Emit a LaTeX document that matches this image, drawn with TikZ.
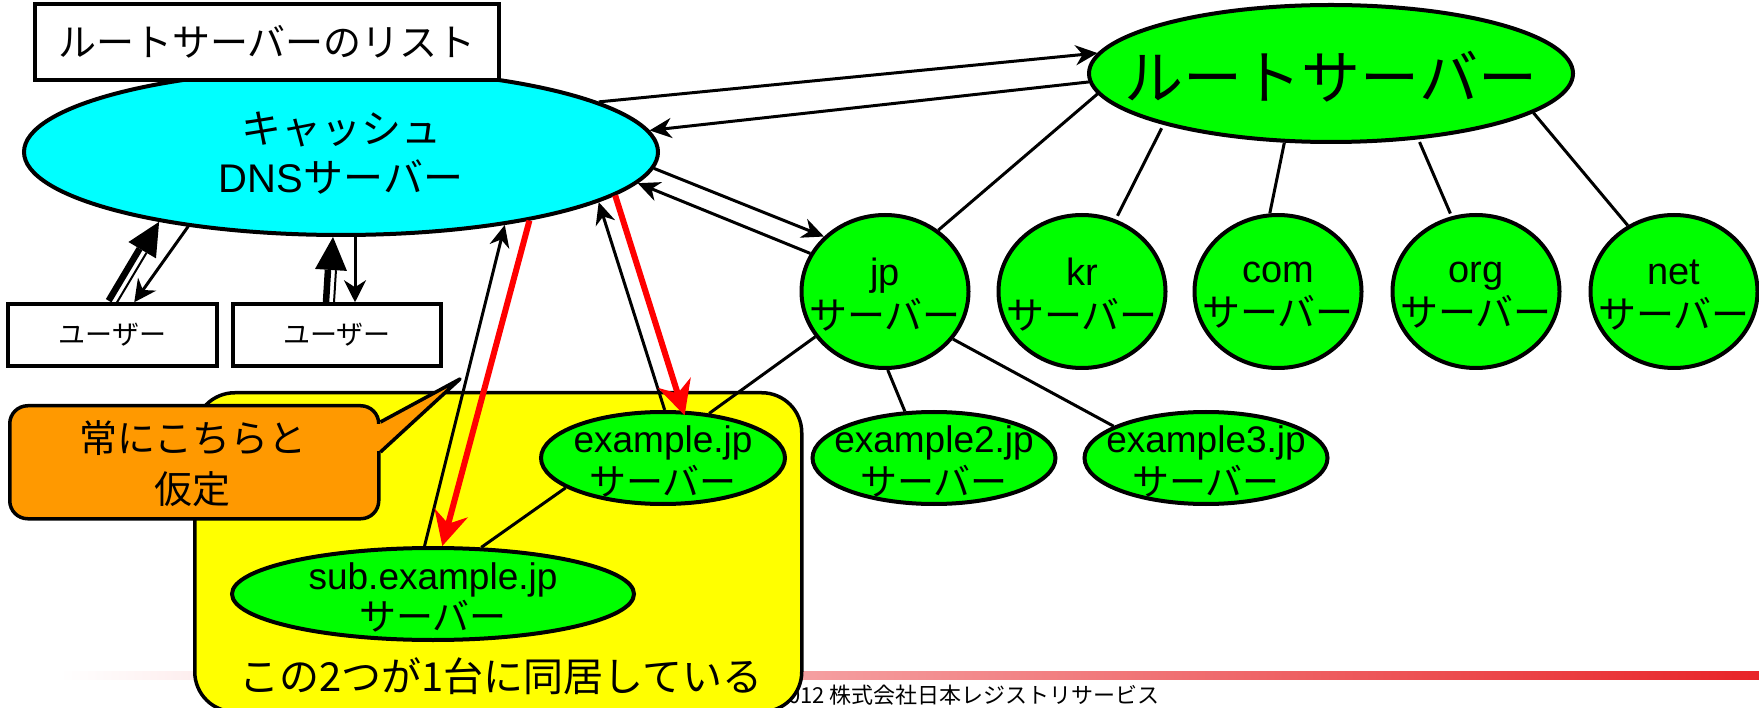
\documentclass[tikz,border=0pt]{standalone}
\usepackage{fontspec}
\setmainfont{Liberation Sans}
\newfontfamily\jp{Noto Sans CJK JP}
\usetikzlibrary{shapes.geometric,arrows.meta,calc}
\definecolor{cyanc}{RGB}{0,255,255}
\definecolor{greenc}{RGB}{0,255,0}
\definecolor{yellowc}{RGB}{255,255,0}
\definecolor{orangec}{RGB}{255,153,0}
\definecolor{redc}{RGB}{255,0,0}
\definecolor{footred}{RGB}{232,36,40}
\newcommand{\fs}[2]{\fontsize{#1}{#2}\selectfont}
\begin{document}
\begin{tikzpicture}[x=1pt,y=-1pt,
  ell/.style={ellipse, draw, line width=4pt, inner sep=0pt},
  gell/.style={ell, fill=greenc},
  rbox/.style={rectangle, draw, line width=3.5pt, fill=white, inner sep=0pt},
  txt/.style={align=center, inner sep=0pt},
  tline/.style={line width=3pt},
  barr/.style={line width=3pt, -{Stealth[length=22pt,width=20pt,inset=7pt]}},
  uarr/.style={line width=3pt, -{Stealth[length=22pt,width=22pt,inset=7pt]}},
  rarr/.style={line width=6pt, draw=redc, -{Stealth[length=34pt,width=34pt,inset=11pt]}},
]
\useasboundingbox (0,0) rectangle (1759,708);
% footer
\shade[left color=white, right color=footred] (60,671) rectangle (1759,679);
\node[anchor=base west, inner sep=0pt, font=\jp\fs{22}{26}] (foot) at (788,703) {012 株式会社日本レジストリサービス};
% yellow box
\node[draw, line width=3.5pt, fill=yellowc, rounded corners=40pt, minimum width=607pt, minimum height=319pt, anchor=north west, inner sep=0pt] (ybox) at (193,391) {};
% ellipses
\node[ell, fill=cyanc, minimum width=634pt, minimum height=166pt] (cache) at (341,152) {};
\node[gell, minimum width=484pt, minimum height=137pt] (root) at (1331,73.5) {};
\foreach \n/\x in {jp/885, kr/1082, com/1278, org/1476, net/1674}
  \node[gell, minimum width=167pt, minimum height=153pt] (\n) at (\x,291.5) {};
\node[gell, minimum width=244pt, minimum height=92pt] (ex) at (663,458) {};
\node[gell, minimum width=243pt, minimum height=92pt] (ex2) at (934,458) {};
\node[gell, minimum width=243pt, minimum height=92pt] (ex3) at (1206,458) {};
\node[gell, minimum width=402pt, minimum height=92pt] (sub) at (433,594) {};
% tree lines
\draw[tline] (root.185.8) -- (jp.49.6);
\draw[tline, shorten <=4pt, shorten >=4pt] (root.197.4) -- (kr.65);
\draw[tline] (root.236.1) -- (com.96.7);
\draw[tline, shorten <=3pt, shorten >=3pt] (root.323.2) -- (org.108.4);
\draw[tline] (root.349.9) -- (net.125.6);
\draw[tline] (jp.213) -- (ex.44.4);
\draw[tline] (jp.272) -- (ex2.122);
\draw[tline] (jp.325) -- (ex3.161.4);
\draw[tline] (ex.197.9) -- (sub.44.4);
% query arrows
\draw[barr] (cache.11.6) -- (root.175);
\draw[barr] (root.182.7) -- (cache.4);
\draw[barr] (cache.357.8) -- (jp.138.6);
\draw[barr] (jp.153) -- (cache.354.6);
\draw[barr] (sub.100) -- (cache.336);
\draw[barr] (ex.88) -- (cache.349);
\draw[rarr] (cache.340) -- (sub.79);
\draw[rarr, shorten >=-5pt] (cache.351) -- (ex.67);
% user boxes
\node[rbox, minimum width=209pt, minimum height=62pt, font=\jp\fs{27}{30}] (u1) at (112.5,335) {ユーザー};
\node[rbox, minimum width=208pt, minimum height=62pt, font=\jp\fs{27}{30}] (u2) at (337,335) {ユーザー};
% user arrows (left)
\coordinate (A1) at ([xshift=105pt]u1.north west);
\coordinate (B1) at (cache.201);
\coordinate (H1) at ($(B1)!33pt!(A1)$);
\draw[line width=6.5pt] ($(A1)!3pt!90:(B1)$) -- ($(H1)!3pt!-90:(A1)$);
\draw[line width=2pt] ($(A1)!5pt!-90:(B1)$) -- ($(H1)!5pt!90:(A1)$);
\fill ($(H1)!16pt!90:(A1)$) -- (B1) -- ($(H1)!16pt!-90:(A1)$) -- cycle;
\draw[uarr] (cache.206) -- ([xshift=128pt]u1.north west);
% user arrows (right)
\coordinate (A2) at ([xshift=-8pt]u2.north);
\coordinate (B2) at ([xshift=-8pt]cache.south);
\coordinate (H2) at ($(B2)!33pt!(A2)$);
\draw[line width=6.5pt] ($(A2)!3pt!90:(B2)$) -- ($(H2)!3pt!-90:(A2)$);
\draw[line width=2pt] ($(A2)!5pt!-90:(B2)$) -- ($(H2)!5pt!90:(A2)$);
\fill ($(H2)!16pt!90:(A2)$) -- (B2) -- ($(H2)!16pt!-90:(A2)$) -- cycle;
\draw[uarr] ([xshift=14pt]cache.south) -- ([xshift=18pt]u2.north);
% list box
\node[rbox, minimum width=464pt, minimum height=76pt, font=\jp\fs{38}{44}] (list) at (267,42) {ルートサーバーのリスト};
% callout
\node[draw, line width=3.5pt, fill=orangec, rounded corners=18pt, minimum width=369pt, minimum height=113pt, anchor=north west, inner sep=0pt] (call) at (8,404) {};
\coordinate (tip) at (460,379);
\fill[orangec] ([yshift=-18pt]call.north east) -- (tip) -- ([yshift=-48pt]call.north east) -- cycle;
\fill[orangec] ([xshift=-5pt,yshift=-19.5pt]call.north east) rectangle ([xshift=2.5pt,yshift=-46.5pt]call.north east);
\draw[line width=3.5pt, line join=round] ([yshift=-18pt]call.north east) -- (tip) -- ([yshift=-48pt]call.north east);
% texts
\node[txt, font=\fs{40}{49}] (cachet) at (341,153.5) {{\jp キャッシュ}\\DNS{\jp サーバー}};
\node[txt, font=\jp\fs{59}{60}] (roott) at (1331,77) {ルートサーバー};
\foreach \n in {jp,kr,com,org,net}
  \node[txt, font=\fs{38}{44}] (\n-t) at ([yshift=-3.5pt]\n) {\n\\{\jp サーバー}};
\node[txt, font=\fs{37}{43}] (ext) at (663,461) {example.jp\\{\jp サーバー}};
\node[txt, font=\fs{37}{43}] (ex2t) at (934,461) {example2.jp\\{\jp サーバー}};
\node[txt, font=\fs{37}{43}] (ex3t) at (1206,461) {example3.jp\\{\jp サーバー}};
\node[txt, font=\fs{37}{41}] (subt) at (433,597) {sub.example.jp\\{\jp サーバー}};
\node[txt, font=\jp\fs{38}{51}] (callt) at (193,463.5) {常にこちらと\\仮定};
\node[txt, font=\jp\fs{40}{44}] (yt) at (501,676) {この2つが1台に同居している};
\end{tikzpicture}
\end{document}
